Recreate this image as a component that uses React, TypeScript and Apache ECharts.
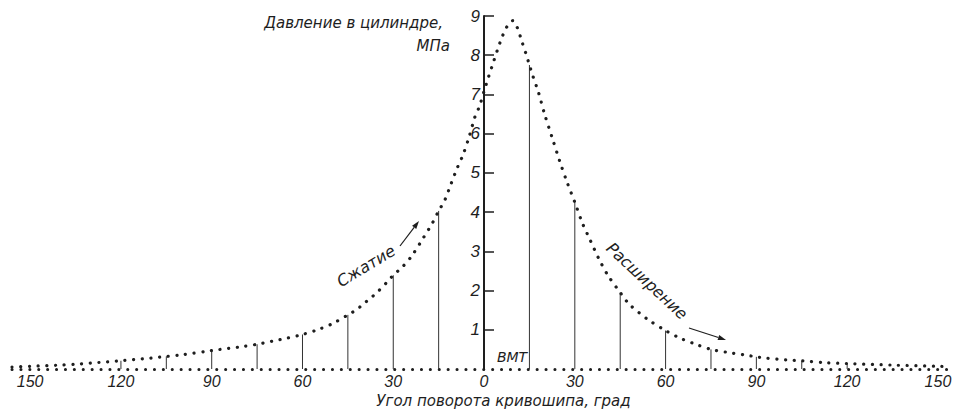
import { useEffect, useRef } from 'react';
import * as echarts from 'echarts';

// Crank angle, degrees (negative = before TDC, compression)
const angles = [
  -156, -150, -140, -135, -130, -120, -110, -105, -100, -90, -80, -75, -70, -65, -60, -55, -50, -45,
  -42, -40, -37, -35, -32, -30, -27, -24, -20, -17, -15, -13, -11, -9, -7, -5, -3, -1.5, 0, 1.5, 3,
  4.5, 6, 7.5, 9.5, 11, 12.5, 14, 15, 16, 18, 20, 22.5, 25, 27.5, 30, 32.5, 35, 38, 41, 45, 48, 54,
  60, 65, 70, 75, 80, 86, 90, 93, 100, 105, 113, 120, 135, 150, 153,
];
// Cylinder pressure, MPa
const pressures = [
  0.05, 0.07, 0.1, 0.12, 0.15, 0.21, 0.28, 0.32, 0.36, 0.47, 0.57, 0.63, 0.71, 0.79, 0.88, 1.0, 1.16, 1.38,
  1.52, 1.65, 1.84, 1.98, 2.22, 2.39, 2.6, 2.87, 3.35, 3.73, 4.03, 4.3, 4.7, 5.1, 5.45, 5.9, 6.43, 6.7, 7.08, 7.45, 7.8,
  8.15, 8.47, 8.72, 8.88, 8.7, 8.35, 8.0, 7.75, 7.5, 7.05, 6.5, 5.9, 5.3, 4.75, 4.25, 3.72, 3.3, 2.8, 2.38, 1.95, 1.65, 1.27,
  0.98, 0.78, 0.63, 0.5, 0.43, 0.36, 0.31, 0.28, 0.23, 0.21, 0.16, 0.14, 0.1, 0.07, 0.06,
];
const xTickValues = [-150, -120, -90, -60, -30, 0, 30, 60, 90, 120, 150];
const yTickValues = [1, 2, 3, 4, 5, 6, 7, 8, 9];
const dropAngles = [-120, -105, -90, -75, -60, -45, -30, -15, 15, 30, 45, 60, 75, 90, 105, 120];

const xTitle = 'Угол поворота кривошипа, град';
const yTitle1 = 'Давление в цилиндре,';
const yTitle2 = 'МПа';
const compressionText = 'Сжатие';
const expansionText = 'Расширение';
const tdcText = 'ВМТ';

const X_MIN = -156;
const X_MAX = 153;
const GRID_LEFT = 12;
const GRID_RIGHT = 6;
const WIDTH = 953;
const HEIGHT = 414;

export default function App() {
  const ref = useRef<HTMLDivElement>(null);
  useEffect(() => {
    const chart = echarts.init(ref.current as HTMLDivElement, null, { renderer: 'svg' });
    const curve = angles.map((a, i) => [a, pressures[i]]);
    const drops = curve.filter(([a]) => dropAngles.includes(a));
    const numFont = "'Liberation Sans', Arimo, sans-serif";
    const titleFont = "'DejaVu Sans', sans-serif";
    const ink = '#1e1e1e';
    const deg = Math.PI / 180;
    const gridW = WIDTH - GRID_LEFT - GRID_RIGHT;
    const zeroOffset = ((0 - X_MIN) / (X_MAX - X_MIN)) * gridW;

    const arrow = (x1: number, y1: number, x2: number, y2: number) => {
      const ang = Math.atan2(y2 - y1, x2 - x1);
      const L = 8;
      const W = 2.6;
      const bx = x2 - L * Math.cos(ang);
      const by = y2 - L * Math.sin(ang);
      return [
        { type: 'line', shape: { x1, y1, x2: bx, y2: by }, style: { stroke: ink, lineWidth: 1.2 } },
        {
          type: 'polygon',
          shape: {
            points: [
              [x2, y2],
              [bx - W * Math.sin(ang), by + W * Math.cos(ang)],
              [bx + W * Math.sin(ang), by - W * Math.cos(ang)],
            ],
          },
          style: { fill: ink },
        },
      ];
    };

    chart.setOption({
      animation: false,
      backgroundColor: '#ffffff',
      grid: {
        left: GRID_LEFT,
        right: GRID_RIGHT,
        top: 16,
        bottom: 45,
        containLabel: false,
        outerBoundsMode: 'none',
      },
      xAxis: {
        type: 'value',
        min: X_MIN,
        max: X_MAX,
        name: xTitle,
        nameLocation: 'middle',
        nameGap: 24,
        nameTextStyle: {
          fontFamily: titleFont,
          fontStyle: 'italic',
          fontSize: 15,
          color: ink,
          padding: [0, 0, 0, 48],
        },
        axisLine: {
          show: true,
          onZero: false,
          lineStyle: { color: ink, width: 3, type: [0.1, 8.8], cap: 'round' },
        },
        axisTick: { show: false },
        splitLine: { show: false },
        axisLabel: {
          customValues: xTickValues,
          formatter: (v: number) => String(Math.abs(v)),
          fontFamily: numFont,
          fontStyle: 'italic',
          fontSize: 16,
          color: ink,
          margin: 4,
        },
      },
      yAxis: {
        type: 'value',
        min: 0,
        max: 9,
        interval: 1,
        position: 'left',
        offset: -zeroOffset,
        axisLine: { show: true, onZero: false, lineStyle: { color: ink, width: 2 } },
        axisTick: { show: true, inside: true, length: 10, customValues: yTickValues, lineStyle: { color: ink, width: 1.5 } },
        splitLine: { show: false },
        axisLabel: {
          customValues: yTickValues,
          fontFamily: numFont,
          fontStyle: 'italic',
          fontSize: 17,
          color: ink,
          margin: 4,
          verticalAlign: 'middle',
        },
      },
      series: [
        {
          type: 'line',
          data: curve,
          smooth: 0.3,
          showSymbol: false,
          symbol: 'none',
          lineStyle: { color: ink, width: 3.2, type: [0.1, 8.6], cap: 'round' },
          z: 3,
        },
        {
          type: 'custom',
          data: drops,
          renderItem: (params: any, api: any) => {
            const x = api.value(0);
            const y = api.value(1);
            const p0 = api.coord([x, 0]);
            const p1 = api.coord([x, y]);
            return {
              type: 'line',
              shape: { x1: p0[0], y1: p0[1], x2: p1[0], y2: p1[1] },
              style: { stroke: '#333', lineWidth: 1 },
            };
          },
          z: 2,
        },
      ],
      graphic: [
        {
          type: 'text',
          right: WIDTH - 443,
          top: 15,
          style: { text: yTitle1, fontFamily: titleFont, fontStyle: 'italic', fontSize: 15, fill: ink },
        },
        {
          type: 'text',
          right: WIDTH - 450,
          top: 38,
          style: { text: yTitle2, fontFamily: titleFont, fontStyle: 'italic', fontSize: 15, fill: ink },
        },
        {
          type: 'text',
          x: 366,
          y: 266,
          rotation: 31 * deg,
          style: {
            text: compressionText,
            fontFamily: titleFont,
            fontStyle: 'italic',
            fontSize: 16,
            fill: ink,
            align: 'center',
            verticalAlign: 'middle',
          },
        },
        {
          type: 'text',
          x: 647,
          y: 281,
          rotation: -43 * deg,
          style: {
            text: expansionText,
            fontFamily: titleFont,
            fontStyle: 'italic',
            fontSize: 16,
            fill: ink,
            align: 'center',
            verticalAlign: 'middle',
          },
        },
        {
          type: 'text',
          x: 512,
          y: 357,
          style: {
            text: tdcText,
            fontFamily: titleFont,
            fontStyle: 'italic',
            fontSize: 14,
            fill: ink,
            align: 'center',
            verticalAlign: 'middle',
          },
        },
        ...arrow(400, 246, 419, 221),
        ...arrow(689, 328, 726, 340),
      ],
    });
    return () => chart.dispose();
  }, []);
  return (
    <div
      ref={ref}
      style={{ position: 'fixed', left: 0, top: 0, width: WIDTH, height: HEIGHT, background: '#ffffff' }}
    />
  );
}
